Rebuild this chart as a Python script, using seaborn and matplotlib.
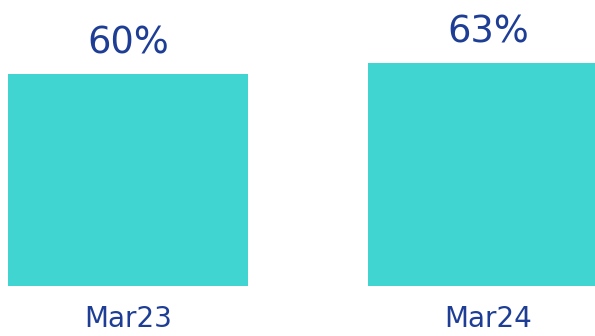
import matplotlib
matplotlib.use("Agg")
import matplotlib.pyplot as plt
import seaborn as sns
import pandas as pd

categories = ["Mar23", "Mar24"]
values = [60, 63]
value_labels = ["60%", "63%"]

BAR = "#40D5D0"
TXT = "#1E3E96"

sns.set_theme(style="white")
plt.rcParams["font.family"] = ["DejaVu Sans"]

df = pd.DataFrame({"period": categories, "value": values})

fig = plt.figure(figsize=(5.95, 3.36), dpi=100)
ax = fig.add_axes([0, 50 / 336, 1, 286 / 336])
sns.barplot(data=df, x="period", y="value", color=BAR, saturation=1,
            width=0.6667, ax=ax, edgecolor="none", linewidth=0)

ax.set_xlim(-128 / 360, (595 - 128) / 360)
ax.set_ylim(0, 286 / 3.535)

ax.bar_label(ax.containers[0], labels=value_labels, padding=9,
             fontsize=26.5, color=TXT)

ax.set_xlabel("")
ax.set_ylabel("")
ax.set_yticks([])
ax.tick_params(axis="x", length=0, pad=14, labelsize=20, labelcolor=TXT)
for s in ax.spines.values():
    s.set_visible(False)

fig.savefig("out.png", dpi=100)
